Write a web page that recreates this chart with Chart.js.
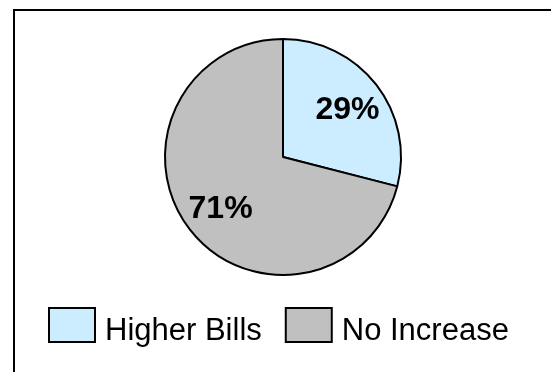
<!DOCTYPE html>
<html lang="en">
<head>
    <meta charset="UTF-8">
    <title>Higher Bills vs No Increase</title>
    <script src="https://cdn.jsdelivr.net/npm/chart.js"></script>
    <style>
        * {
            margin: 0;
            padding: 0;
            box-sizing: border-box;
        }

        body {
            background-color: #fff;
            width: 551px;
            height: 372px;
            overflow: hidden;
        }

        .chart-box {
            position: relative;
            width: 551px;
            height: 372px;
        }
    </style>
</head>
<body>
    <div class="chart-box">
        <canvas id="billsChart"></canvas>
    </div>

    <script>
        // Share of respondents
        const categories = ['Higher Bills', 'No Increase'];
        const shares = [29, 71];
        const sliceColors = ['#CCECFF', '#C0C0C0'];

        const FONT = "'Liberation Sans', Arial, sans-serif";

        // Frame around the chart (top and left edges only, the rest is cut off)
        const framePlugin = {
            id: 'frame',
            beforeDraw(chart) {
                const ctx = chart.ctx;
                ctx.save();
                ctx.fillStyle = '#fff';
                ctx.fillRect(0, 0, chart.width, chart.height);
                ctx.strokeStyle = '#000';
                ctx.lineWidth = 2;
                ctx.beginPath();
                ctx.moveTo(14, chart.height);
                ctx.lineTo(14, 10);
                ctx.lineTo(chart.width, 10);
                ctx.stroke();
                ctx.restore();
            }
        };

        // Percent labels inside each slice
        const sliceLabels = {
            id: 'sliceLabels',
            afterDatasetsDraw(chart) {
                const ctx = chart.ctx;
                const meta = chart.getDatasetMeta(0);
                const size = 32;
                ctx.save();
                ctx.font = 'bold ' + size + 'px ' + FONT;
                ctx.fillStyle = '#000';
                ctx.textAlign = 'center';
                ctx.textBaseline = 'alphabetic';
                meta.data.forEach((arc, i) => {
                    const p = arc.getProps(['x', 'y', 'startAngle', 'endAngle', 'outerRadius'], true);
                    const mid = (p.startAngle + p.endAngle) / 2;
                    const d = p.outerRadius * 0.68;
                    const x = p.x + Math.cos(mid) * d;
                    const y = p.y + Math.sin(mid) * d;
                    ctx.fillText(shares[i] + '%', x + 1, y + size * 0.36);
                });
                ctx.restore();
            }
        };

        // Legend row under the pie
        const legendRow = {
            id: 'legendRow',
            afterDraw(chart) {
                const ctx = chart.ctx;
                const boxW = 46, boxH = 34, boxTop = 308;
                let x = 49;
                ctx.save();
                ctx.font = '31px ' + FONT;
                ctx.textBaseline = 'alphabetic';
                ctx.textAlign = 'left';
                categories.forEach((label, i) => {
                    ctx.fillStyle = sliceColors[i];
                    ctx.fillRect(x, boxTop, boxW, boxH);
                    ctx.strokeStyle = '#000';
                    ctx.lineWidth = 2;
                    ctx.strokeRect(x, boxTop, boxW, boxH);
                    ctx.fillStyle = '#000';
                    const tx = x + boxW + 10;
                    ctx.fillText(label, tx, 340);
                    x = tx + ctx.measureText(label).width + 24;
                });
                ctx.restore();
            }
        };

        const ctx = document.getElementById('billsChart').getContext('2d');
        const billsChart = new Chart(ctx, {
            type: 'pie',
            data: {
                labels: categories,
                datasets: [{
                    data: shares,
                    backgroundColor: sliceColors,
                    borderColor: '#000',
                    borderWidth: 2
                }]
            },
            options: {
                responsive: true,
                maintainAspectRatio: false,
                animation: false,
                layout: {
                    padding: { left: 164, right: 149, top: 38, bottom: 96 }
                },
                plugins: {
                    legend: { display: false },
                    tooltip: { enabled: false }
                }
            },
            plugins: [framePlugin, sliceLabels, legendRow]
        });
    </script>
</body>
</html>
